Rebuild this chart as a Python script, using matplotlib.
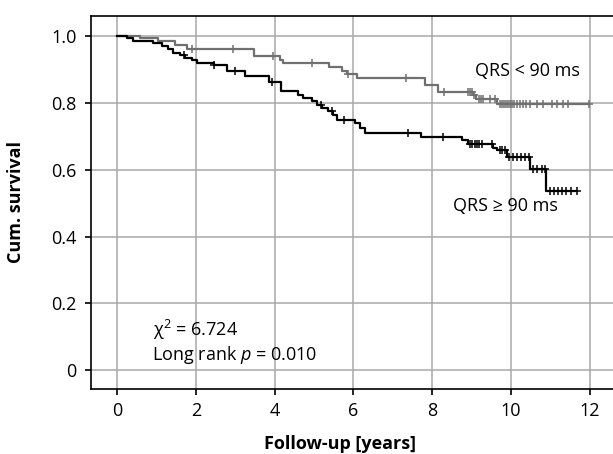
import numpy as np
import matplotlib
matplotlib.use("Agg")
import matplotlib.pyplot as plt

plt.rcParams['font.family'] = ['Open Sans', 'DejaVu Sans']
plt.rcParams['mathtext.fontset'] = 'custom'
plt.rcParams['mathtext.rm'] = 'Open Sans'
plt.rcParams['mathtext.it'] = 'Open Sans:italic'

# QRS < 90 ms (grey curve)
low_t = [0, 0.58, 1.04, 1.47, 1.77, 3.47, 4.14, 4.22, 5.38, 5.70, 5.83, 6.09,
         7.82, 8.16, 9.04, 9.12, 9.64, 11.98]
low_s = [1.0, 0.995, 0.985, 0.975, 0.962, 0.941, 0.930, 0.920, 0.908, 0.895,
         0.887, 0.875, 0.855, 0.833, 0.823, 0.812, 0.797, 0.797]
low_cens = [1.9, 2.94, 3.95, 4.94, 5.86, 7.33, 8.3, 8.91, 8.96, 9.0, 9.06, 9.2,
            9.25, 9.3, 9.47, 9.6, 9.72, 9.77, 9.82, 9.87, 9.92, 9.97, 10.02,
            10.08, 10.15, 10.22, 10.3, 10.38, 10.48, 10.65, 10.81, 11.03, 11.16,
            11.32, 11.46, 11.98]

# QRS >= 90 ms (black curve)
high_t = [0, 0.25, 0.41, 0.92, 1.13, 1.30, 1.43, 1.60, 1.72, 1.90, 2.02, 2.45,
          2.80, 3.25, 3.86, 4.15, 4.60, 4.73, 4.94, 5.07, 5.20, 5.36, 5.49, 5.59,
          6.04, 6.17, 6.29, 7.71, 8.75, 8.92, 9.55, 9.64, 9.91, 10.48, 10.90, 11.67]
high_s = [1.0, 0.996, 0.987, 0.980, 0.970, 0.962, 0.951, 0.945, 0.935, 0.930,
          0.921, 0.913, 0.895, 0.882, 0.862, 0.836, 0.825, 0.815, 0.805, 0.795,
          0.785, 0.775, 0.765, 0.750, 0.740, 0.725, 0.710, 0.698, 0.688, 0.678,
          0.665, 0.658, 0.638, 0.603, 0.537, 0.537]
high_cens = [1.70, 2.46, 3.0, 3.93, 5.18, 5.45, 5.77, 7.39, 8.28, 8.96, 9.02,
             9.08, 9.14, 9.2, 9.27, 9.51, 9.72, 9.78, 9.85, 9.95, 10.05, 10.15,
             10.25, 10.35, 10.45, 10.55, 10.65, 10.78, 10.86, 11.0, 11.1, 11.2,
             11.3, 11.4, 11.52, 11.67]

x_ticks = [0, 2, 4, 6, 8, 10, 12]
y_ticks = [0, 0.2, 0.4, 0.6, 0.8, 1.0]
y_labels = ['0', '0.2', '0.4', '0.6', '0.8', '1.0']


def surv_at(times, surv, t):
    idx = np.searchsorted(times, t, side='right') - 1
    return np.array(surv)[idx]


fig = plt.figure(figsize=(6.13, 4.54), dpi=100)
ax = fig.add_axes([0.1485, 0.1432, 0.8515, 0.8216])

ax.set_xlim(-0.66, 12.59)
ax.set_ylim(-0.057, 1.061)
ax.set_xticks(x_ticks)
ax.set_yticks(y_ticks)
ax.set_yticklabels(y_labels)
ax.grid(True, color='#a8a8a8', lw=1.1)
ax.set_axisbelow(True)

for name, sp in ax.spines.items():
    sp.set_linewidth(1.2)
ax.spines['right'].set_visible(False)
ax.tick_params(direction='out', length=4.3, width=1.2, labelsize=13)
ax.tick_params(axis='y', pad=6)
ax.tick_params(axis='x', pad=5)

ax.step(low_t, low_s, where='post', color='#707070', lw=1.6)
ax.plot(low_cens, surv_at(low_t, low_s, low_cens), ls='none', marker='+',
        ms=6, mew=1.1, color='#707070')

ax.step(high_t, high_s, where='post', color='black', lw=1.6)
ax.plot(high_cens, surv_at(high_t, high_s, high_cens), ls='none', marker='+',
        ms=6, mew=1.1, color='black')

ax.text(9.09, 0.897, 'QRS < 90 ms', fontsize=13, va='center', ha='left')
ax.text(8.53, 0.492, 'QRS ≥ 90 ms', fontsize=13, va='center', ha='left')
ax.text(0.91, 0.12, 'χ$^2$ = 6.724', fontsize=13, va='center', ha='left')
ax.text(0.88, 0.045, 'Long rank $p$ = 0.010', fontsize=13, va='center', ha='left')

ax.set_xlabel('Follow-up [years]', fontsize=13, fontweight='bold')
ax.set_ylabel('Cum. survival', fontsize=13, fontweight='bold')
ax.xaxis.set_label_coords(0.477, -0.123)
ax.yaxis.set_label_coords(-0.126, 0.5)

fig.savefig('out.png', dpi=100)
